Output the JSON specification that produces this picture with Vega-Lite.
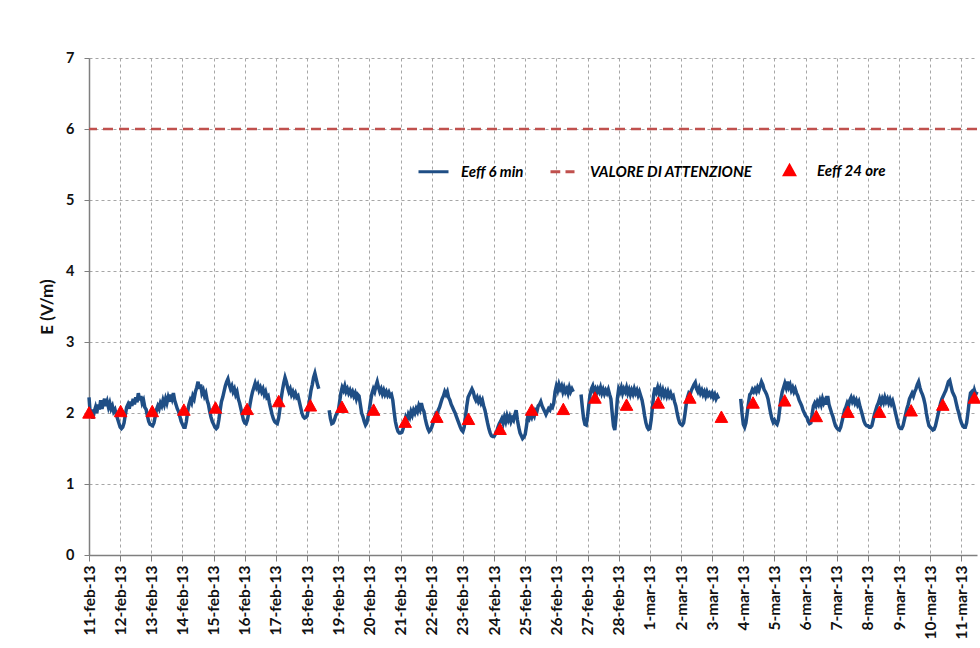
{
"$schema": "https://vega.github.io/schema/vega-lite/v6.json",
"width": 888, "height": 497,
"autosize": {"type": "none"},
"padding": {"left": 89, "top": 58, "right": 3, "bottom": 93},
"background": "white",
"config": {
 "font": "Lato",
 "view": {"stroke": null},
 "axis": {"gridColor": "#a6a6a6", "gridDash": [3, 3], "gridWidth": 1, "domainColor": "#7f7f7f", "domainWidth": 1.5, "tickColor": "#7f7f7f", "labelColor": "#111111", "labelFont": "Lato", "labelFontWeight": "bold", "labelFontSize": 14.5, "titleFont": "Lato"}
},
"datasets": {
"soglia": [{"v": 6}],
"eeff24": [
{"t":"2013-02-11T00:00","v":2.00,"s":"Eeff 24 ore"},{"t":"2013-02-12T00:21","v":2.02,"s":"Eeff 24 ore"},{"t":"2013-02-13T00:43","v":2.02,"s":"Eeff 24 ore"},{"t":"2013-02-14T01:04","v":2.04,"s":"Eeff 24 ore"},{"t":"2013-02-15T01:26","v":2.07,"s":"Eeff 24 ore"},{"t":"2013-02-16T01:47","v":2.05,"s":"Eeff 24 ore"},{"t":"2013-02-17T02:08","v":2.16,"s":"Eeff 24 ore"},{"t":"2013-02-18T02:30","v":2.10,"s":"Eeff 24 ore"},{"t":"2013-02-19T02:51","v":2.08,"s":"Eeff 24 ore"},{"t":"2013-02-20T03:13","v":2.04,"s":"Eeff 24 ore"},{"t":"2013-02-21T03:34","v":1.87,"s":"Eeff 24 ore"},{"t":"2013-02-22T03:55","v":1.94,"s":"Eeff 24 ore"},{"t":"2013-02-23T04:17","v":1.91,"s":"Eeff 24 ore"},{"t":"2013-02-24T04:38","v":1.77,"s":"Eeff 24 ore"},{"t":"2013-02-25T05:00","v":2.04,"s":"Eeff 24 ore"},{"t":"2013-02-26T05:21","v":2.05,"s":"Eeff 24 ore"},{"t":"2013-02-27T05:42","v":2.21,"s":"Eeff 24 ore"},{"t":"2013-02-28T06:04","v":2.11,"s":"Eeff 24 ore"},{"t":"2013-03-01T06:25","v":2.14,"s":"Eeff 24 ore"},{"t":"2013-03-02T06:47","v":2.21,"s":"Eeff 24 ore"},{"t":"2013-03-03T07:08","v":1.94,"s":"Eeff 24 ore"},{"t":"2013-03-04T07:29","v":2.14,"s":"Eeff 24 ore"},{"t":"2013-03-05T07:51","v":2.17,"s":"Eeff 24 ore"},{"t":"2013-03-06T08:12","v":1.95,"s":"Eeff 24 ore"},{"t":"2013-03-07T08:34","v":2.01,"s":"Eeff 24 ore"},{"t":"2013-03-08T08:55","v":2.01,"s":"Eeff 24 ore"},{"t":"2013-03-09T09:16","v":2.03,"s":"Eeff 24 ore"},{"t":"2013-03-10T09:38","v":2.11,"s":"Eeff 24 ore"},{"t":"2013-03-11T09:59","v":2.21,"s":"Eeff 24 ore"}
],
"eeff6": [
{"t":"2013-02-11T00:00","v":2.22},{"t":"2013-02-11T01:00","v":1.98},{"t":"2013-02-11T02:00","v":2.05},{"t":"2013-02-11T03:00","v":1.92},{"t":"2013-02-11T04:00","v":2.02},{"t":"2013-02-11T05:00","v":2.08},{"t":"2013-02-11T06:00","v":2.0},{"t":"2013-02-11T07:00","v":2.12},{"t":"2013-02-11T08:00","v":2.05},{"t":"2013-02-11T09:00","v":2.18},{"t":"2013-02-11T10:00","v":2.06},{"t":"2013-02-11T11:00","v":2.14},{"t":"2013-02-11T12:00","v":2.2},{"t":"2013-02-11T13:00","v":2.1},{"t":"2013-02-11T14:00","v":2.16},{"t":"2013-02-11T15:00","v":2.08},{"t":"2013-02-11T16:00","v":2.14},{"t":"2013-02-11T17:00","v":2.06},{"t":"2013-02-11T18:00","v":2.1},{"t":"2013-02-11T19:00","v":2.02},{"t":"2013-02-11T20:00","v":2.05},{"t":"2013-02-11T21:00","v":1.98},{"t":"2013-02-11T22:00","v":1.92},{"t":"2013-02-11T23:00","v":1.86},
{"t":"2013-02-12T00:00","v":1.8},{"t":"2013-02-12T01:00","v":1.78},{"t":"2013-02-12T02:00","v":1.8},{"t":"2013-02-12T03:00","v":1.86},{"t":"2013-02-12T04:00","v":1.98},{"t":"2013-02-12T05:00","v":2.08},{"t":"2013-02-12T06:00","v":2.12},{"t":"2013-02-12T07:00","v":2.06},{"t":"2013-02-12T08:00","v":2.16},{"t":"2013-02-12T09:00","v":2.1},{"t":"2013-02-12T10:00","v":2.2},{"t":"2013-02-12T11:00","v":2.12},{"t":"2013-02-12T12:00","v":2.22},{"t":"2013-02-12T13:00","v":2.15},{"t":"2013-02-12T14:00","v":2.28},{"t":"2013-02-12T15:00","v":2.18},{"t":"2013-02-12T16:00","v":2.24},{"t":"2013-02-12T17:00","v":2.14},{"t":"2013-02-12T18:00","v":2.18},{"t":"2013-02-12T19:00","v":2.08},{"t":"2013-02-12T20:00","v":2.05},{"t":"2013-02-12T21:00","v":1.96},{"t":"2013-02-12T22:00","v":1.88},{"t":"2013-02-12T23:00","v":1.84},
{"t":"2013-02-13T00:00","v":1.83},{"t":"2013-02-13T01:00","v":1.82},{"t":"2013-02-13T02:00","v":1.86},{"t":"2013-02-13T03:00","v":1.95},{"t":"2013-02-13T04:00","v":2.05},{"t":"2013-02-13T05:00","v":2.1},{"t":"2013-02-13T06:00","v":2.06},{"t":"2013-02-13T07:00","v":2.14},{"t":"2013-02-13T08:00","v":2.1},{"t":"2013-02-13T09:00","v":2.18},{"t":"2013-02-13T10:00","v":2.12},{"t":"2013-02-13T11:00","v":2.2},{"t":"2013-02-13T12:00","v":2.14},{"t":"2013-02-13T13:00","v":2.22},{"t":"2013-02-13T14:00","v":2.16},{"t":"2013-02-13T15:00","v":2.26},{"t":"2013-02-13T16:00","v":2.2},{"t":"2013-02-13T17:00","v":2.28},{"t":"2013-02-13T18:00","v":2.18},{"t":"2013-02-13T19:00","v":2.12},{"t":"2013-02-13T20:00","v":2.06},{"t":"2013-02-13T21:00","v":2.02},{"t":"2013-02-13T22:00","v":1.95},{"t":"2013-02-13T23:00","v":1.88},
{"t":"2013-02-14T00:00","v":1.84},{"t":"2013-02-14T01:00","v":1.8},{"t":"2013-02-14T02:00","v":1.8},{"t":"2013-02-14T03:00","v":1.88},{"t":"2013-02-14T04:00","v":2.02},{"t":"2013-02-14T05:00","v":2.12},{"t":"2013-02-14T06:00","v":2.18},{"t":"2013-02-14T07:00","v":2.14},{"t":"2013-02-14T08:00","v":2.24},{"t":"2013-02-14T09:00","v":2.2},{"t":"2013-02-14T10:00","v":2.3},{"t":"2013-02-14T11:00","v":2.36},{"t":"2013-02-14T12:00","v":2.44},{"t":"2013-02-14T13:00","v":2.34},{"t":"2013-02-14T14:00","v":2.4},{"t":"2013-02-14T15:00","v":2.28},{"t":"2013-02-14T16:00","v":2.32},{"t":"2013-02-14T17:00","v":2.24},{"t":"2013-02-14T18:00","v":2.28},{"t":"2013-02-14T19:00","v":2.18},{"t":"2013-02-14T20:00","v":2.12},{"t":"2013-02-14T21:00","v":2.02},{"t":"2013-02-14T22:00","v":1.94},{"t":"2013-02-14T23:00","v":1.88},
{"t":"2013-02-15T00:00","v":1.84},{"t":"2013-02-15T01:00","v":1.8},{"t":"2013-02-15T02:00","v":1.78},{"t":"2013-02-15T03:00","v":1.8},{"t":"2013-02-15T04:00","v":1.9},{"t":"2013-02-15T05:00","v":2.04},{"t":"2013-02-15T06:00","v":2.16},{"t":"2013-02-15T07:00","v":2.22},{"t":"2013-02-15T08:00","v":2.3},{"t":"2013-02-15T09:00","v":2.38},{"t":"2013-02-15T10:00","v":2.44},{"t":"2013-02-15T11:00","v":2.48},{"t":"2013-02-15T12:00","v":2.4},{"t":"2013-02-15T13:00","v":2.34},{"t":"2013-02-15T14:00","v":2.38},{"t":"2013-02-15T15:00","v":2.3},{"t":"2013-02-15T16:00","v":2.34},{"t":"2013-02-15T17:00","v":2.26},{"t":"2013-02-15T18:00","v":2.3},{"t":"2013-02-15T19:00","v":2.2},{"t":"2013-02-15T20:00","v":2.14},{"t":"2013-02-15T21:00","v":2.06},{"t":"2013-02-15T22:00","v":1.98},{"t":"2013-02-15T23:00","v":1.9},
{"t":"2013-02-16T00:00","v":1.86},{"t":"2013-02-16T01:00","v":1.85},{"t":"2013-02-16T02:00","v":1.9},{"t":"2013-02-16T03:00","v":2.0},{"t":"2013-02-16T04:00","v":2.12},{"t":"2013-02-16T05:00","v":2.22},{"t":"2013-02-16T06:00","v":2.3},{"t":"2013-02-16T07:00","v":2.36},{"t":"2013-02-16T08:00","v":2.42},{"t":"2013-02-16T09:00","v":2.36},{"t":"2013-02-16T10:00","v":2.4},{"t":"2013-02-16T11:00","v":2.32},{"t":"2013-02-16T12:00","v":2.36},{"t":"2013-02-16T13:00","v":2.3},{"t":"2013-02-16T14:00","v":2.34},{"t":"2013-02-16T15:00","v":2.26},{"t":"2013-02-16T16:00","v":2.3},{"t":"2013-02-16T17:00","v":2.22},{"t":"2013-02-16T18:00","v":2.24},{"t":"2013-02-16T19:00","v":2.14},{"t":"2013-02-16T20:00","v":2.06},{"t":"2013-02-16T21:00","v":1.98},{"t":"2013-02-16T22:00","v":1.92},{"t":"2013-02-16T23:00","v":1.88},
{"t":"2013-02-17T00:00","v":1.86},{"t":"2013-02-17T01:00","v":1.85},{"t":"2013-02-17T02:00","v":1.92},{"t":"2013-02-17T03:00","v":2.05},{"t":"2013-02-17T04:00","v":2.2},{"t":"2013-02-17T05:00","v":2.32},{"t":"2013-02-17T06:00","v":2.42},{"t":"2013-02-17T07:00","v":2.5},{"t":"2013-02-17T08:00","v":2.44},{"t":"2013-02-17T09:00","v":2.36},{"t":"2013-02-17T10:00","v":2.3},{"t":"2013-02-17T11:00","v":2.34},{"t":"2013-02-17T12:00","v":2.26},{"t":"2013-02-17T13:00","v":2.3},{"t":"2013-02-17T14:00","v":2.24},{"t":"2013-02-17T15:00","v":2.28},{"t":"2013-02-17T16:00","v":2.22},{"t":"2013-02-17T17:00","v":2.24},{"t":"2013-02-17T18:00","v":2.16},{"t":"2013-02-17T19:00","v":2.08},{"t":"2013-02-17T20:00","v":2.0},{"t":"2013-02-17T21:00","v":1.95},{"t":"2013-02-17T22:00","v":1.93},{"t":"2013-02-17T23:00","v":1.94},
{"t":"2013-02-18T00:00","v":1.96},{"t":"2013-02-18T01:00","v":2.05},{"t":"2013-02-18T02:00","v":2.2},{"t":"2013-02-18T03:00","v":2.32},{"t":"2013-02-18T04:00","v":2.4},{"t":"2013-02-18T05:00","v":2.5},{"t":"2013-02-18T06:00","v":2.56},{"t":"2013-02-18T07:00","v":2.48},{"t":"2013-02-18T08:00","v":2.4},{"t":"2013-02-18T09:00","v":2.34},{"t":"2013-02-18T10:00","v":null},{"t":"2013-02-18T11:00","v":null},{"t":"2013-02-18T12:00","v":null},{"t":"2013-02-18T13:00","v":null},{"t":"2013-02-18T14:00","v":null},{"t":"2013-02-18T15:00","v":null},{"t":"2013-02-18T16:00","v":null},{"t":"2013-02-18T17:00","v":2.04},{"t":"2013-02-18T18:00","v":1.92},{"t":"2013-02-18T19:00","v":1.85},{"t":"2013-02-18T20:00","v":1.86},{"t":"2013-02-18T21:00","v":1.9},{"t":"2013-02-18T22:00","v":1.96},{"t":"2013-02-18T23:00","v":2.0},
{"t":"2013-02-19T00:00","v":2.02},{"t":"2013-02-19T01:00","v":2.15},{"t":"2013-02-19T02:00","v":2.28},{"t":"2013-02-19T03:00","v":2.36},{"t":"2013-02-19T04:00","v":2.32},{"t":"2013-02-19T05:00","v":2.38},{"t":"2013-02-19T06:00","v":2.3},{"t":"2013-02-19T07:00","v":2.34},{"t":"2013-02-19T08:00","v":2.28},{"t":"2013-02-19T09:00","v":2.32},{"t":"2013-02-19T10:00","v":2.26},{"t":"2013-02-19T11:00","v":2.3},{"t":"2013-02-19T12:00","v":2.24},{"t":"2013-02-19T13:00","v":2.28},{"t":"2013-02-19T14:00","v":2.2},{"t":"2013-02-19T15:00","v":2.26},{"t":"2013-02-19T16:00","v":2.24},{"t":"2013-02-19T17:00","v":2.12},{"t":"2013-02-19T18:00","v":2.0},{"t":"2013-02-19T19:00","v":1.95},{"t":"2013-02-19T20:00","v":1.88},{"t":"2013-02-19T21:00","v":1.83},{"t":"2013-02-19T22:00","v":1.86},{"t":"2013-02-19T23:00","v":1.95},
{"t":"2013-02-20T00:00","v":2.05},{"t":"2013-02-20T01:00","v":2.18},{"t":"2013-02-20T02:00","v":2.28},{"t":"2013-02-20T03:00","v":2.34},{"t":"2013-02-20T04:00","v":2.3},{"t":"2013-02-20T05:00","v":2.38},{"t":"2013-02-20T06:00","v":2.44},{"t":"2013-02-20T07:00","v":2.36},{"t":"2013-02-20T08:00","v":2.3},{"t":"2013-02-20T09:00","v":2.34},{"t":"2013-02-20T10:00","v":2.27},{"t":"2013-02-20T11:00","v":2.32},{"t":"2013-02-20T12:00","v":2.26},{"t":"2013-02-20T13:00","v":2.3},{"t":"2013-02-20T14:00","v":2.25},{"t":"2013-02-20T15:00","v":2.29},{"t":"2013-02-20T16:00","v":2.24},{"t":"2013-02-20T17:00","v":2.26},{"t":"2013-02-20T18:00","v":2.18},{"t":"2013-02-20T19:00","v":2.02},{"t":"2013-02-20T20:00","v":1.88},{"t":"2013-02-20T21:00","v":1.8},{"t":"2013-02-20T22:00","v":1.74},{"t":"2013-02-20T23:00","v":1.72},
{"t":"2013-02-21T00:00","v":1.72},{"t":"2013-02-21T01:00","v":1.73},{"t":"2013-02-21T02:00","v":1.78},{"t":"2013-02-21T03:00","v":1.86},{"t":"2013-02-21T04:00","v":1.94},{"t":"2013-02-21T05:00","v":1.9},{"t":"2013-02-21T06:00","v":1.98},{"t":"2013-02-21T07:00","v":1.94},{"t":"2013-02-21T08:00","v":2.02},{"t":"2013-02-21T09:00","v":1.97},{"t":"2013-02-21T10:00","v":2.04},{"t":"2013-02-21T11:00","v":2.0},{"t":"2013-02-21T12:00","v":2.06},{"t":"2013-02-21T13:00","v":2.02},{"t":"2013-02-21T14:00","v":2.1},{"t":"2013-02-21T15:00","v":2.05},{"t":"2013-02-21T16:00","v":2.14},{"t":"2013-02-21T17:00","v":2.06},{"t":"2013-02-21T18:00","v":2.02},{"t":"2013-02-21T19:00","v":1.92},{"t":"2013-02-21T20:00","v":1.84},{"t":"2013-02-21T21:00","v":1.78},{"t":"2013-02-21T22:00","v":1.74},{"t":"2013-02-21T23:00","v":1.76},
{"t":"2013-02-22T00:00","v":1.8},{"t":"2013-02-22T01:00","v":1.86},{"t":"2013-02-22T02:00","v":1.92},{"t":"2013-02-22T03:00","v":1.98},{"t":"2013-02-22T04:00","v":1.95},{"t":"2013-02-22T05:00","v":2.04},{"t":"2013-02-22T06:00","v":2.08},{"t":"2013-02-22T07:00","v":2.14},{"t":"2013-02-22T08:00","v":2.2},{"t":"2013-02-22T09:00","v":2.24},{"t":"2013-02-22T10:00","v":2.3},{"t":"2013-02-22T11:00","v":2.26},{"t":"2013-02-22T12:00","v":2.3},{"t":"2013-02-22T13:00","v":2.22},{"t":"2013-02-22T14:00","v":2.18},{"t":"2013-02-22T15:00","v":2.12},{"t":"2013-02-22T16:00","v":2.08},{"t":"2013-02-22T17:00","v":2.04},{"t":"2013-02-22T18:00","v":2.0},{"t":"2013-02-22T19:00","v":1.95},{"t":"2013-02-22T20:00","v":1.9},{"t":"2013-02-22T21:00","v":1.85},{"t":"2013-02-22T22:00","v":1.8},{"t":"2013-02-22T23:00","v":1.76},
{"t":"2013-02-23T00:00","v":1.74},{"t":"2013-02-23T01:00","v":1.8},{"t":"2013-02-23T02:00","v":1.95},{"t":"2013-02-23T03:00","v":2.1},{"t":"2013-02-23T04:00","v":2.22},{"t":"2013-02-23T05:00","v":2.26},{"t":"2013-02-23T06:00","v":2.3},{"t":"2013-02-23T07:00","v":2.34},{"t":"2013-02-23T08:00","v":2.3},{"t":"2013-02-23T09:00","v":2.22},{"t":"2013-02-23T10:00","v":2.18},{"t":"2013-02-23T11:00","v":2.22},{"t":"2013-02-23T12:00","v":2.16},{"t":"2013-02-23T13:00","v":2.2},{"t":"2013-02-23T14:00","v":2.14},{"t":"2013-02-23T15:00","v":2.18},{"t":"2013-02-23T16:00","v":2.1},{"t":"2013-02-23T17:00","v":2.04},{"t":"2013-02-23T18:00","v":1.95},{"t":"2013-02-23T19:00","v":1.86},{"t":"2013-02-23T20:00","v":1.78},{"t":"2013-02-23T21:00","v":1.72},{"t":"2013-02-23T22:00","v":1.68},{"t":"2013-02-23T23:00","v":1.67},
{"t":"2013-02-24T00:00","v":1.67},{"t":"2013-02-24T01:00","v":1.7},{"t":"2013-02-24T02:00","v":1.74},{"t":"2013-02-24T03:00","v":1.8},{"t":"2013-02-24T04:00","v":1.85},{"t":"2013-02-24T05:00","v":1.88},{"t":"2013-02-24T06:00","v":1.92},{"t":"2013-02-24T07:00","v":1.86},{"t":"2013-02-24T08:00","v":1.94},{"t":"2013-02-24T09:00","v":1.88},{"t":"2013-02-24T10:00","v":1.96},{"t":"2013-02-24T11:00","v":1.9},{"t":"2013-02-24T12:00","v":1.95},{"t":"2013-02-24T13:00","v":1.88},{"t":"2013-02-24T14:00","v":1.93},{"t":"2013-02-24T15:00","v":1.9},{"t":"2013-02-24T16:00","v":1.98},{"t":"2013-02-24T17:00","v":2.04},{"t":"2013-02-24T18:00","v":1.9},{"t":"2013-02-24T19:00","v":1.8},{"t":"2013-02-24T20:00","v":1.72},{"t":"2013-02-24T21:00","v":1.68},{"t":"2013-02-24T22:00","v":1.64},{"t":"2013-02-24T23:00","v":1.66},
{"t":"2013-02-25T00:00","v":1.7},{"t":"2013-02-25T01:00","v":1.82},{"t":"2013-02-25T02:00","v":1.95},{"t":"2013-02-25T03:00","v":1.92},{"t":"2013-02-25T04:00","v":1.98},{"t":"2013-02-25T05:00","v":1.94},{"t":"2013-02-25T06:00","v":2.0},{"t":"2013-02-25T07:00","v":1.96},{"t":"2013-02-25T08:00","v":2.04},{"t":"2013-02-25T09:00","v":2.02},{"t":"2013-02-25T10:00","v":2.1},{"t":"2013-02-25T11:00","v":2.12},{"t":"2013-02-25T12:00","v":2.16},{"t":"2013-02-25T13:00","v":2.1},{"t":"2013-02-25T14:00","v":2.06},{"t":"2013-02-25T15:00","v":2.02},{"t":"2013-02-25T16:00","v":1.98},{"t":"2013-02-25T17:00","v":2.02},{"t":"2013-02-25T18:00","v":2.06},{"t":"2013-02-25T19:00","v":2.04},{"t":"2013-02-25T20:00","v":2.1},{"t":"2013-02-25T21:00","v":2.08},{"t":"2013-02-25T22:00","v":2.14},{"t":"2013-02-25T23:00","v":2.3},
{"t":"2013-02-26T00:00","v":2.38},{"t":"2013-02-26T01:00","v":2.32},{"t":"2013-02-26T02:00","v":2.4},{"t":"2013-02-26T03:00","v":2.34},{"t":"2013-02-26T04:00","v":2.38},{"t":"2013-02-26T05:00","v":2.3},{"t":"2013-02-26T06:00","v":2.36},{"t":"2013-02-26T07:00","v":2.3},{"t":"2013-02-26T08:00","v":2.34},{"t":"2013-02-26T09:00","v":2.28},{"t":"2013-02-26T10:00","v":2.36},{"t":"2013-02-26T11:00","v":2.3},{"t":"2013-02-26T12:00","v":2.34},{"t":"2013-02-26T13:00","v":2.3},{"t":"2013-02-26T14:00","v":null},{"t":"2013-02-26T15:00","v":null},{"t":"2013-02-26T16:00","v":null},{"t":"2013-02-26T17:00","v":null},{"t":"2013-02-26T18:00","v":null},{"t":"2013-02-26T19:00","v":2.26},{"t":"2013-02-26T20:00","v":2.08},{"t":"2013-02-26T21:00","v":1.92},{"t":"2013-02-26T22:00","v":1.84},{"t":"2013-02-26T23:00","v":1.83},
{"t":"2013-02-27T00:00","v":1.95},{"t":"2013-02-27T01:00","v":2.12},{"t":"2013-02-27T02:00","v":2.26},{"t":"2013-02-27T03:00","v":2.34},{"t":"2013-02-27T04:00","v":2.38},{"t":"2013-02-27T05:00","v":2.3},{"t":"2013-02-27T06:00","v":2.34},{"t":"2013-02-27T07:00","v":2.28},{"t":"2013-02-27T08:00","v":2.34},{"t":"2013-02-27T09:00","v":2.3},{"t":"2013-02-27T10:00","v":2.36},{"t":"2013-02-27T11:00","v":2.28},{"t":"2013-02-27T12:00","v":2.33},{"t":"2013-02-27T13:00","v":2.27},{"t":"2013-02-27T14:00","v":2.32},{"t":"2013-02-27T15:00","v":2.28},{"t":"2013-02-27T16:00","v":2.33},{"t":"2013-02-27T17:00","v":2.26},{"t":"2013-02-27T18:00","v":2.2},{"t":"2013-02-27T19:00","v":2.0},{"t":"2013-02-27T20:00","v":1.82},{"t":"2013-02-27T21:00","v":1.76},{"t":"2013-02-27T22:00","v":1.95},{"t":"2013-02-27T23:00","v":2.2},
{"t":"2013-02-28T00:00","v":2.34},{"t":"2013-02-28T01:00","v":2.3},{"t":"2013-02-28T02:00","v":2.36},{"t":"2013-02-28T03:00","v":2.28},{"t":"2013-02-28T04:00","v":2.34},{"t":"2013-02-28T05:00","v":2.3},{"t":"2013-02-28T06:00","v":2.36},{"t":"2013-02-28T07:00","v":2.28},{"t":"2013-02-28T08:00","v":2.33},{"t":"2013-02-28T09:00","v":2.26},{"t":"2013-02-28T10:00","v":2.32},{"t":"2013-02-28T11:00","v":2.27},{"t":"2013-02-28T12:00","v":2.34},{"t":"2013-02-28T13:00","v":2.28},{"t":"2013-02-28T14:00","v":2.32},{"t":"2013-02-28T15:00","v":2.25},{"t":"2013-02-28T16:00","v":2.3},{"t":"2013-02-28T17:00","v":2.24},{"t":"2013-02-28T18:00","v":2.18},{"t":"2013-02-28T19:00","v":2.08},{"t":"2013-02-28T20:00","v":1.96},{"t":"2013-02-28T21:00","v":1.86},{"t":"2013-02-28T22:00","v":1.8},{"t":"2013-02-28T23:00","v":1.77},
{"t":"2013-03-01T00:00","v":1.78},{"t":"2013-03-01T01:00","v":1.9},{"t":"2013-03-01T02:00","v":2.08},{"t":"2013-03-01T03:00","v":2.26},{"t":"2013-03-01T04:00","v":2.36},{"t":"2013-03-01T05:00","v":2.3},{"t":"2013-03-01T06:00","v":2.36},{"t":"2013-03-01T07:00","v":2.28},{"t":"2013-03-01T08:00","v":2.34},{"t":"2013-03-01T09:00","v":2.26},{"t":"2013-03-01T10:00","v":2.32},{"t":"2013-03-01T11:00","v":2.25},{"t":"2013-03-01T12:00","v":2.3},{"t":"2013-03-01T13:00","v":2.24},{"t":"2013-03-01T14:00","v":2.3},{"t":"2013-03-01T15:00","v":2.24},{"t":"2013-03-01T16:00","v":2.28},{"t":"2013-03-01T17:00","v":2.22},{"t":"2013-03-01T18:00","v":2.24},{"t":"2013-03-01T19:00","v":2.16},{"t":"2013-03-01T20:00","v":2.1},{"t":"2013-03-01T21:00","v":2.0},{"t":"2013-03-01T22:00","v":1.92},{"t":"2013-03-01T23:00","v":1.86},
{"t":"2013-03-02T00:00","v":1.84},{"t":"2013-03-02T01:00","v":1.83},{"t":"2013-03-02T02:00","v":1.86},{"t":"2013-03-02T03:00","v":1.98},{"t":"2013-03-02T04:00","v":2.12},{"t":"2013-03-02T05:00","v":2.22},{"t":"2013-03-02T06:00","v":2.28},{"t":"2013-03-02T07:00","v":2.26},{"t":"2013-03-02T08:00","v":2.32},{"t":"2013-03-02T09:00","v":2.36},{"t":"2013-03-02T10:00","v":2.4},{"t":"2013-03-02T11:00","v":2.43},{"t":"2013-03-02T12:00","v":2.34},{"t":"2013-03-02T13:00","v":2.3},{"t":"2013-03-02T14:00","v":2.35},{"t":"2013-03-02T15:00","v":2.28},{"t":"2013-03-02T16:00","v":2.32},{"t":"2013-03-02T17:00","v":2.26},{"t":"2013-03-02T18:00","v":2.3},{"t":"2013-03-02T19:00","v":2.24},{"t":"2013-03-02T20:00","v":2.3},{"t":"2013-03-02T21:00","v":2.25},{"t":"2013-03-02T22:00","v":2.28},{"t":"2013-03-02T23:00","v":2.24},
{"t":"2013-03-03T00:00","v":2.28},{"t":"2013-03-03T01:00","v":2.22},{"t":"2013-03-03T02:00","v":2.26},{"t":"2013-03-03T03:00","v":2.2},{"t":"2013-03-03T04:00","v":2.24},{"t":"2013-03-03T05:00","v":2.2},{"t":"2013-03-03T06:00","v":null},{"t":"2013-03-03T12:00","v":null},{"t":"2013-03-03T21:00","v":null},{"t":"2013-03-03T22:00","v":2.2},{"t":"2013-03-03T23:00","v":2.0},
{"t":"2013-03-04T00:00","v":1.84},{"t":"2013-03-04T01:00","v":1.8},{"t":"2013-03-04T02:00","v":1.86},{"t":"2013-03-04T03:00","v":2.0},{"t":"2013-03-04T04:00","v":2.14},{"t":"2013-03-04T05:00","v":2.26},{"t":"2013-03-04T06:00","v":2.28},{"t":"2013-03-04T07:00","v":2.33},{"t":"2013-03-04T08:00","v":2.3},{"t":"2013-03-04T09:00","v":2.34},{"t":"2013-03-04T10:00","v":2.3},{"t":"2013-03-04T11:00","v":2.36},{"t":"2013-03-04T12:00","v":2.32},{"t":"2013-03-04T13:00","v":2.38},{"t":"2013-03-04T14:00","v":2.44},{"t":"2013-03-04T15:00","v":2.4},{"t":"2013-03-04T16:00","v":2.33},{"t":"2013-03-04T17:00","v":2.3},{"t":"2013-03-04T18:00","v":2.26},{"t":"2013-03-04T19:00","v":2.2},{"t":"2013-03-04T20:00","v":2.1},{"t":"2013-03-04T21:00","v":2.0},{"t":"2013-03-04T22:00","v":1.92},{"t":"2013-03-04T23:00","v":1.87},
{"t":"2013-03-05T00:00","v":1.9},{"t":"2013-03-05T01:00","v":1.86},{"t":"2013-03-05T02:00","v":1.84},{"t":"2013-03-05T03:00","v":1.9},{"t":"2013-03-05T04:00","v":2.05},{"t":"2013-03-05T05:00","v":2.2},{"t":"2013-03-05T06:00","v":2.3},{"t":"2013-03-05T07:00","v":2.36},{"t":"2013-03-05T08:00","v":2.42},{"t":"2013-03-05T09:00","v":2.36},{"t":"2013-03-05T10:00","v":2.44},{"t":"2013-03-05T11:00","v":2.36},{"t":"2013-03-05T12:00","v":2.4},{"t":"2013-03-05T13:00","v":2.32},{"t":"2013-03-05T14:00","v":2.36},{"t":"2013-03-05T15:00","v":2.3},{"t":"2013-03-05T16:00","v":2.34},{"t":"2013-03-05T17:00","v":2.28},{"t":"2013-03-05T18:00","v":2.24},{"t":"2013-03-05T19:00","v":2.18},{"t":"2013-03-05T20:00","v":2.14},{"t":"2013-03-05T21:00","v":2.1},{"t":"2013-03-05T22:00","v":2.04},{"t":"2013-03-05T23:00","v":2.0},
{"t":"2013-03-06T00:00","v":1.96},{"t":"2013-03-06T01:00","v":1.94},{"t":"2013-03-06T02:00","v":1.88},{"t":"2013-03-06T03:00","v":1.85},{"t":"2013-03-06T04:00","v":1.86},{"t":"2013-03-06T05:00","v":1.98},{"t":"2013-03-06T06:00","v":2.1},{"t":"2013-03-06T07:00","v":2.14},{"t":"2013-03-06T08:00","v":2.1},{"t":"2013-03-06T09:00","v":2.16},{"t":"2013-03-06T10:00","v":2.12},{"t":"2013-03-06T11:00","v":2.18},{"t":"2013-03-06T12:00","v":2.12},{"t":"2013-03-06T13:00","v":2.2},{"t":"2013-03-06T14:00","v":2.14},{"t":"2013-03-06T15:00","v":2.18},{"t":"2013-03-06T16:00","v":2.12},{"t":"2013-03-06T17:00","v":2.24},{"t":"2013-03-06T18:00","v":2.12},{"t":"2013-03-06T19:00","v":2.06},{"t":"2013-03-06T20:00","v":2.0},{"t":"2013-03-06T21:00","v":1.95},{"t":"2013-03-06T22:00","v":1.88},{"t":"2013-03-06T23:00","v":1.82},
{"t":"2013-03-07T00:00","v":1.79},{"t":"2013-03-07T01:00","v":1.77},{"t":"2013-03-07T02:00","v":1.76},{"t":"2013-03-07T03:00","v":1.8},{"t":"2013-03-07T04:00","v":1.88},{"t":"2013-03-07T05:00","v":1.96},{"t":"2013-03-07T06:00","v":2.04},{"t":"2013-03-07T07:00","v":2.08},{"t":"2013-03-07T08:00","v":2.14},{"t":"2013-03-07T09:00","v":2.1},{"t":"2013-03-07T10:00","v":2.18},{"t":"2013-03-07T11:00","v":2.22},{"t":"2013-03-07T12:00","v":2.16},{"t":"2013-03-07T13:00","v":2.2},{"t":"2013-03-07T14:00","v":2.14},{"t":"2013-03-07T15:00","v":2.18},{"t":"2013-03-07T16:00","v":2.12},{"t":"2013-03-07T17:00","v":2.16},{"t":"2013-03-07T18:00","v":2.08},{"t":"2013-03-07T19:00","v":2.02},{"t":"2013-03-07T20:00","v":1.95},{"t":"2013-03-07T21:00","v":1.88},{"t":"2013-03-07T22:00","v":1.84},{"t":"2013-03-07T23:00","v":1.82},
{"t":"2013-03-08T00:00","v":1.82},{"t":"2013-03-08T01:00","v":1.8},{"t":"2013-03-08T02:00","v":1.8},{"t":"2013-03-08T03:00","v":1.82},{"t":"2013-03-08T04:00","v":1.9},{"t":"2013-03-08T05:00","v":1.98},{"t":"2013-03-08T06:00","v":2.04},{"t":"2013-03-08T07:00","v":2.1},{"t":"2013-03-08T08:00","v":2.14},{"t":"2013-03-08T09:00","v":2.2},{"t":"2013-03-08T10:00","v":2.14},{"t":"2013-03-08T11:00","v":2.2},{"t":"2013-03-08T12:00","v":2.15},{"t":"2013-03-08T13:00","v":2.22},{"t":"2013-03-08T14:00","v":2.16},{"t":"2013-03-08T15:00","v":2.2},{"t":"2013-03-08T16:00","v":2.14},{"t":"2013-03-08T17:00","v":2.19},{"t":"2013-03-08T18:00","v":2.13},{"t":"2013-03-08T19:00","v":2.17},{"t":"2013-03-08T20:00","v":2.1},{"t":"2013-03-08T21:00","v":2.02},{"t":"2013-03-08T22:00","v":1.94},{"t":"2013-03-08T23:00","v":1.86},
{"t":"2013-03-09T00:00","v":1.8},{"t":"2013-03-09T01:00","v":1.78},{"t":"2013-03-09T02:00","v":1.78},{"t":"2013-03-09T03:00","v":1.82},{"t":"2013-03-09T04:00","v":1.9},{"t":"2013-03-09T05:00","v":1.98},{"t":"2013-03-09T06:00","v":2.06},{"t":"2013-03-09T07:00","v":2.12},{"t":"2013-03-09T08:00","v":2.2},{"t":"2013-03-09T09:00","v":2.24},{"t":"2013-03-09T10:00","v":2.28},{"t":"2013-03-09T11:00","v":2.24},{"t":"2013-03-09T12:00","v":2.3},{"t":"2013-03-09T13:00","v":2.34},{"t":"2013-03-09T14:00","v":2.4},{"t":"2013-03-09T15:00","v":2.44},{"t":"2013-03-09T16:00","v":2.36},{"t":"2013-03-09T17:00","v":2.3},{"t":"2013-03-09T18:00","v":2.26},{"t":"2013-03-09T19:00","v":2.2},{"t":"2013-03-09T20:00","v":2.12},{"t":"2013-03-09T21:00","v":2.0},{"t":"2013-03-09T22:00","v":1.9},{"t":"2013-03-09T23:00","v":1.82},
{"t":"2013-03-10T00:00","v":1.8},{"t":"2013-03-10T01:00","v":1.78},{"t":"2013-03-10T02:00","v":1.76},{"t":"2013-03-10T03:00","v":1.77},{"t":"2013-03-10T04:00","v":1.82},{"t":"2013-03-10T05:00","v":1.9},{"t":"2013-03-10T06:00","v":1.98},{"t":"2013-03-10T07:00","v":2.06},{"t":"2013-03-10T08:00","v":2.14},{"t":"2013-03-10T09:00","v":2.2},{"t":"2013-03-10T10:00","v":2.24},{"t":"2013-03-10T11:00","v":2.28},{"t":"2013-03-10T12:00","v":2.32},{"t":"2013-03-10T13:00","v":2.38},{"t":"2013-03-10T14:00","v":2.44},{"t":"2013-03-10T15:00","v":2.46},{"t":"2013-03-10T16:00","v":2.38},{"t":"2013-03-10T17:00","v":2.3},{"t":"2013-03-10T18:00","v":2.26},{"t":"2013-03-10T19:00","v":2.22},{"t":"2013-03-10T20:00","v":2.14},{"t":"2013-03-10T21:00","v":2.06},{"t":"2013-03-10T22:00","v":2.0},{"t":"2013-03-10T23:00","v":1.92},
{"t":"2013-03-11T00:00","v":1.86},{"t":"2013-03-11T01:00","v":1.82},{"t":"2013-03-11T02:00","v":1.8},{"t":"2013-03-11T03:00","v":1.8},{"t":"2013-03-11T04:00","v":1.86},{"t":"2013-03-11T05:00","v":2.0},{"t":"2013-03-11T06:00","v":2.16},{"t":"2013-03-11T07:00","v":2.28},{"t":"2013-03-11T08:00","v":2.3},{"t":"2013-03-11T09:00","v":2.24},{"t":"2013-03-11T10:00","v":2.32},{"t":"2013-03-11T11:00","v":2.26},{"t":"2013-03-11T12:00","v":2.3}
]
},
"layer": [
 {
  "data": {"name": "eeff6"},
  "mark": {"type": "line", "color": "#1f4e85", "strokeWidth": 3.5, "invalid": "break-paths-filter-domains"},
  "encoding": {
   "x": {"field": "t", "type": "temporal",
    "scale": {"domain": [{"year": 2013, "month": 2, "date": 11, "hours": 0}, {"year": 2013, "month": 3, "date": 11, "hours": 12}], "nice": false},
    "axis": {"title": null, "grid": true, "tickCount": {"interval": "day", "step": 1}, "labelAngle": 270, "labelExpr": "timeFormat(datum.value, '%-d') + '-' + lower(timeFormat(datum.value, '%b')) + '-' + timeFormat(datum.value, '%y')", "tickSize": 6, "labelPadding": 4, "labelFlush": false, "labelOverlap": false, "labelBound": false, "labelFontSize": 15.5}},
   "y": {"field": "v", "type": "quantitative",
    "scale": {"domain": [0, 7], "nice": false},
    "axis": {"title": "E (V/m)", "values": [0, 1, 2, 3, 4, 5, 6, 7], "format": "d", "grid": true, "tickSize": 5, "labelPadding": 10, "titlePadding": 9, "titleFontSize": 17, "titleFontWeight": "bold", "titleColor": "#111111"}}
  }
 },
 {
  "data": {"name": "soglia"},
  "mark": {"type": "rule", "color": "#c0504d", "strokeWidth": 2.5, "strokeDash": [10, 6]},
  "encoding": {"y": {"field": "v", "type": "quantitative"}}
 },
 {
  "data": {"name": "eeff24"},
  "mark": {"type": "point", "filled": true, "size": 1450, "opacity": 1, "strokeWidth": 1},
  "encoding": {
   "x": {"field": "t", "type": "temporal"},
   "y": {"field": "v", "type": "quantitative"},
   "fill": {"field": "s", "type": "nominal",
    "scale": {"domain": ["Eeff 6 min", "VALORE DI ATTENZIONE", "Eeff 24 ore"], "range": ["#1f4e85", "#c0504d", "#ff0000"]},
    "legend": {"title": null, "orient": "none", "legendX": 328, "legendY": 96, "direction": "horizontal", "symbolSize": 900, "symbolStrokeWidth": 3, "labelFont": "Lato", "labelFontSize": 15, "labelFontStyle": "italic", "labelFontWeight": "bold", "labelColor": "#000000", "labelOffset": 11, "labelLimit": 0, "columnPadding": 20, "padding": 0}},
   "stroke": {"field": "s", "type": "nominal",
    "scale": {"domain": ["Eeff 6 min", "VALORE DI ATTENZIONE", "Eeff 24 ore"], "range": ["#1f4e85", "#c0504d", "#ff0000"]},
    "legend": {"title": null, "orient": "none", "legendX": 328, "legendY": 96, "direction": "horizontal", "symbolSize": 900, "symbolStrokeWidth": 3, "labelFont": "Lato", "labelFontSize": 15, "labelFontStyle": "italic", "labelFontWeight": "bold", "labelColor": "#000000", "labelOffset": 11, "labelLimit": 0, "columnPadding": 20, "padding": 0}},
   "shape": {"field": "s", "type": "nominal",
    "scale": {"domain": ["Eeff 6 min", "VALORE DI ATTENZIONE", "Eeff 24 ore"], "range": ["M-1,0H1", "M-0.8,0H-0.15M0.2,0H0.8", "M0,-0.33L0.33,0.27L-0.33,0.27Z"]},
    "legend": {"title": null, "orient": "none", "legendX": 328, "legendY": 96, "direction": "horizontal", "symbolSize": 900, "symbolStrokeWidth": 3, "labelFont": "Lato", "labelFontSize": 15, "labelFontStyle": "italic", "labelFontWeight": "bold", "labelColor": "#000000", "labelOffset": 11, "labelLimit": 0, "columnPadding": 20, "padding": 0}}
  }
 }
]
}
